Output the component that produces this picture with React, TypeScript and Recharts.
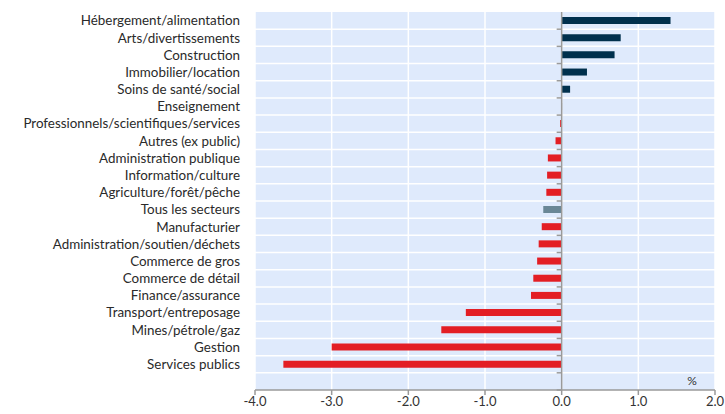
import React from 'react';
import {
  BarChart,
  Bar,
  Cell,
  XAxis,
  YAxis,
  CartesianGrid,
  ReferenceLine,
} from 'recharts';

const categories = [
  'Hébergement/alimentation',
  'Arts/divertissements',
  'Construction',
  'Immobilier/location',
  'Soins de santé/social',
  'Enseignement',
  'Professionnels/scientifiques/services',
  'Autres (ex public)',
  'Administration publique',
  'Information/culture',
  'Agriculture/forêt/pêche',
  'Tous les secteurs',
  'Manufacturier',
  'Administration/soutien/déchets',
  'Commerce de gros',
  'Commerce de détail',
  'Finance/assurance',
  'Transport/entreposage',
  'Mines/pétrole/gaz',
  'Gestion',
  'Services publics',
];

const values = [
  1.42, 0.77, 0.69, 0.33, 0.11, 0.005, -0.02, -0.08, -0.18, -0.19, -0.2,
  -0.24, -0.26, -0.3, -0.32, -0.37, -0.4, -1.25, -1.57, -3.0, -3.63,
];

const xTicks = [-4, -3, -2, -1, 0, 1, 2];

const TOTAL = 'Tous les secteurs';

// one empty row at the bottom, like the original
const data = [
  ...categories.map((name, i) => ({ name, value: values[i] })),
  { name: ' ', value: null },
];

const rows = data.length;

const barColor = (name: string, v: number | null) => {
  if (name === TOTAL) return '#6a8796';
  return v !== null && v >= 0 ? '#00304d' : '#e31e24';
};

const ZeroLine = (props: any) => {
  const { x1, y1, y2 } = props;
  const step = (y2 - y1) / rows;
  const ticks = [];
  for (let i = 0; i < rows; i++) {
    const y = y1 + i * step;
    ticks.push(<line key={i} x1={x1 - 5} x2={x1} y1={y} y2={y} stroke="#9a9a9a" strokeWidth={1.5} />);
  }
  return (
    <g>
      {ticks}
      <line x1={x1} x2={x1} y1={y1} y2={y2} stroke="#9a9a9a" strokeWidth={1.5} />
    </g>
  );
};

export default function App() {
  return (
    <div style={{ position: 'absolute', left: 0, top: 0, width: 725, height: 414, background: '#fff' }}>
      <BarChart
        width={725}
        height={414}
        data={data}
        layout="vertical"
        margin={{ top: 12, right: 10, left: 0, bottom: 0 }}
        barCategoryGap={0}
      >
        <CartesianGrid
          fill="#dfeafc"
          stroke="#ffffff"
          strokeWidth={1.5}
          horizontalCoordinatesGenerator={({ offset }: any) => {
            const out = [];
            for (let i = 1; i < rows; i++) out.push(offset.top + (i * offset.height) / rows);
            return out;
          }}
        />
        <XAxis
          type="number"
          domain={[-4, 2]}
          ticks={xTicks}
          tickFormatter={(v: number) => v.toFixed(1)}
          axisLine={{ stroke: '#9a9a9a', strokeWidth: 1.5 }}
          tickLine={{ stroke: '#9a9a9a', strokeWidth: 1.5 }}
          tickSize={5}
          tick={{ fill: '#333', fontSize: 13, fontFamily: 'Lato' }}
          height={24}
          label={{
            content: ({ viewBox }: any) => (
              <text x={viewBox.x + viewBox.width - 23} y={viewBox.y - 5} fontSize={12} fontFamily="Lato" fill="#333" textAnchor="middle">
                %
              </text>
            ),
          }}
        />
        <YAxis
          type="category"
          dataKey="name"
          width={255}
          axisLine={false}
          tickLine={false}
          tickSize={0}
          tickMargin={15}
          interval={0}
          tick={{ fill: '#2a2a2a', fontSize: 13.4, fontFamily: 'Lato' }}
        />
        <Bar dataKey="value" barSize={7} isAnimationActive={false}>
          {data.map((d, i) => (
            <Cell key={i} fill={barColor(d.name, d.value)} />
          ))}
        </Bar>
        <ReferenceLine x={0} shape={<ZeroLine />} />
      </BarChart>
    </div>
  );
}
